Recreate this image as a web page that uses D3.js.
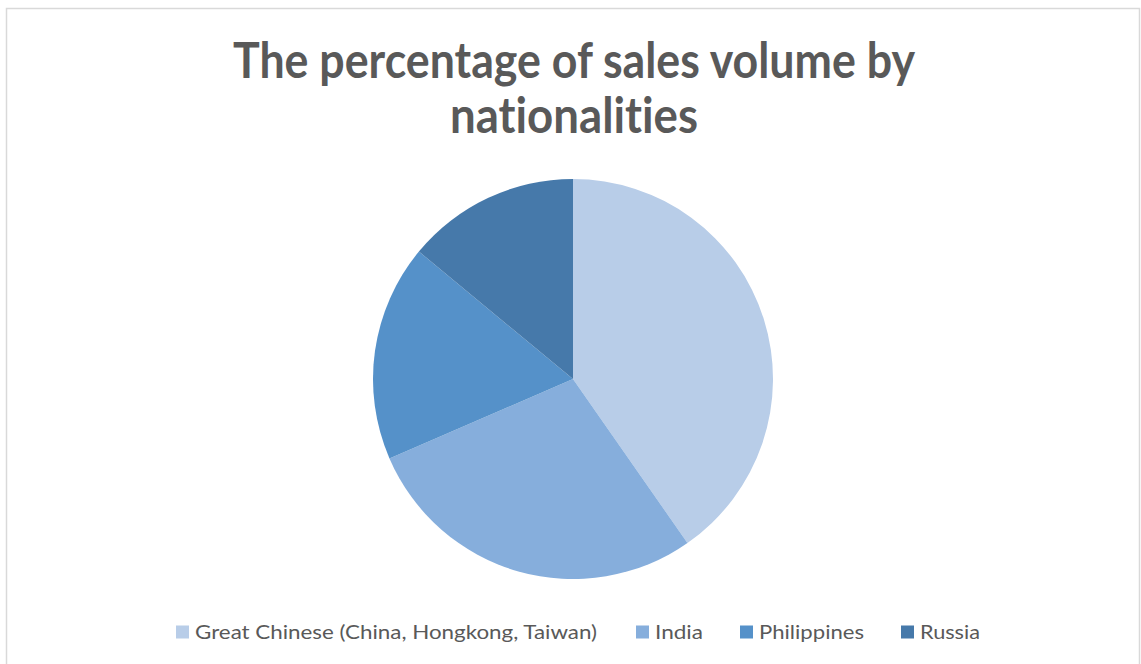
<!DOCTYPE html>
<html>
<head>
<meta charset="utf-8">
<script src="https://cdn.jsdelivr.net/npm/d3@7"></script>
<style>
  html, body { margin: 0; padding: 0; background: #fff; }
  svg { display: block; }
  text { font-variant-ligatures: none; font-feature-settings: "liga" 0, "clig" 0, "dlig" 0; }
</style>
</head>
<body>
<svg id="chart" width="1141" height="664"></svg>
<script>
// Sales share by nationality (percent)
const categories = ["Great Chinese (China, Hongkong, Taiwan)", "India", "Philippines", "Russia"];
const values = [40.3, 28.2, 17.5, 14.0];
const colors = ["#B8CDE8", "#86AEDC", "#5591C9", "#4679AA"];
const titleLines = ["The percentage of sales volume by", "nationalities"];

const W = 1141, H = 664;
const svg = d3.select("#chart");

// chart frame
svg.append("rect")
  .attr("x", 6.5).attr("y", 8.5)
  .attr("width", 1133).attr("height", H + 10)
  .attr("fill", "#fff")
  .attr("stroke", "#d9d9d9")
  .attr("stroke-width", 1.5);

// title
const titleFont = "Lato, 'Open Sans', sans-serif";
const titleSpecs = [{ y: 78, len: 682 }, { y: 133, len: 248 }];
svg.append("g").selectAll("text")
  .data(titleLines)
  .join("text")
  .attr("x", 574)
  .attr("y", (d, i) => titleSpecs[i].y)
  .attr("text-anchor", "middle")
  .attr("font-family", titleFont)
  .attr("font-weight", 700)
  .attr("font-size", 50)
  .attr("fill", "#595959")
  .style("font-variant-ligatures", "none")
  .attr("textLength", (d, i) => titleSpecs[i].len)
  .attr("lengthAdjust", "spacingAndGlyphs")
  .text(d => d);

// pie
const cx = 573, cy = 379, r = 200;
const pie = d3.pie().sort(null).value(d => d)(values);
const arc = d3.arc().innerRadius(0).outerRadius(r);
const color = d3.scaleOrdinal().domain(categories).range(colors);

svg.append("g")
  .attr("transform", `translate(${cx},${cy})`)
  .selectAll("path")
  .data(pie)
  .join("path")
  .attr("d", arc)
  .attr("fill", (d, i) => color(categories[i]));

// legend
const legendItems = [
  { sx: 176, tx: 195, len: 402 },
  { sx: 636, tx: 655, len: 48 },
  { sx: 740, tx: 759, len: 105 },
  { sx: 901, tx: 920, len: 60 }
];
const lg = svg.append("g");
const ly = 632;
lg.selectAll("rect")
  .data(categories)
  .join("rect")
  .attr("x", (d, i) => legendItems[i].sx)
  .attr("y", ly - 6.5)
  .attr("width", 13).attr("height", 13)
  .attr("fill", d => color(d));
lg.selectAll("text")
  .data(categories)
  .join("text")
  .attr("x", (d, i) => legendItems[i].tx)
  .attr("y", ly + 6.5)
  .attr("font-family", titleFont)
  .attr("font-size", 19)
  .attr("fill", "#595959")
  .attr("textLength", (d, i) => legendItems[i].len)
  .attr("lengthAdjust", "spacingAndGlyphs")
  .text(d => d);
</script>
</body>
</html>
